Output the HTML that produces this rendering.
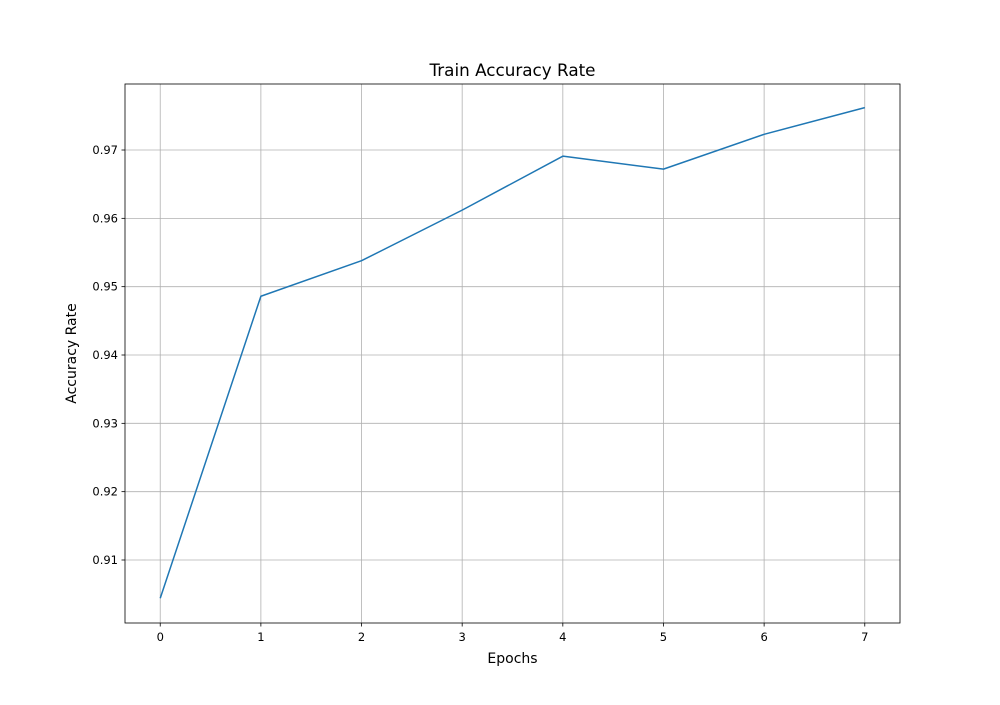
<!DOCTYPE html>
<html><head><meta charset="utf-8"><style>
body{margin:0;background:#fff;}
svg text{font-family:"DejaVu Sans","Liberation Sans",sans-serif;fill:#000;}
</style></head><body>
<svg id="chart" width="1000" height="700" xmlns="http://www.w3.org/2000/svg">
<rect width="1000" height="700" fill="#fff"/>
<g id="grid"></g>
<g id="ticks"></g>
<polyline id="line" fill="none" stroke="#1f77b4" stroke-width="1.5" stroke-linejoin="round"/>
<rect x="125" y="84" width="775" height="539" fill="none" stroke="#000" stroke-width="0.8"/>
<text x="512.5" y="76" font-size="16.8" text-anchor="middle">Train Accuracy Rate</text>
<text x="512.5" y="663" font-size="14" text-anchor="middle">Epochs</text>
<text x="76" y="353.5" font-size="14" text-anchor="middle" transform="rotate(-90 76 353.5)">Accuracy Rate</text>
</svg>
<script>
const epochs=[0,1,2,3,4,5,6,7];
const accuracy=[0.9044,0.9486,0.9538,0.9612,0.9691,0.9672,0.9723,0.9762];
const yTicks=[0.91,0.92,0.93,0.94,0.95,0.96,0.97];
const yTickLabels=["0.91","0.92","0.93","0.94","0.95","0.96","0.97"];
const NS="http://www.w3.org/2000/svg";
const L=125,R=900,T=84,B=623;
const xMin=-0.35,xMax=7.35;
const yMin=0.90078,yMax=0.97966;
function sx(v){return L+(v-xMin)/(xMax-xMin)*(R-L);}
function sy(v){return B-(v-yMin)/(yMax-yMin)*(B-T);}
const grid=document.getElementById('grid'),ticks=document.getElementById('ticks');
function mk(tag,attrs,parent){const e=document.createElementNS(NS,tag);for(const k in attrs)e.setAttribute(k,attrs[k]);parent.appendChild(e);return e;}
epochs.forEach(function(x){
  const X=sx(x);
  const g=mk('line',{x1:X,x2:X,y1:T,y2:B,stroke:'#b0b0b0','stroke-width':0.8},grid);
  
  
  const t=mk('line',{x1:X,x2:X,y1:B,y2:B+3.5,stroke:'#000','stroke-width':0.8},ticks);
  
  
  const lb=mk('text',{x:X,y:B+18,'font-size':11.5,'text-anchor':'middle'},ticks);
  lb.textContent=String(x);
  
  
});
yTicks.forEach(function(v,i){
  const Y=sy(v);
  const g=mk('line',{x1:L,x2:R,y1:Y,y2:Y,stroke:'#b0b0b0','stroke-width':0.8},grid);
  
  
  const t=mk('line',{x1:L-3.5,x2:L,y1:Y,y2:Y,stroke:'#000','stroke-width':0.8},ticks);
  
  
  const lb=mk('text',{x:L-7,y:Y+4,'font-size':11.5,'text-anchor':'end'},ticks);
  lb.textContent=yTickLabels[i];
  
  
});
document.getElementById('line').setAttribute('points',epochs.map(function(x,i){return sx(x)+','+sy(accuracy[i]);}).join(' '));
</script>
</body></html>
